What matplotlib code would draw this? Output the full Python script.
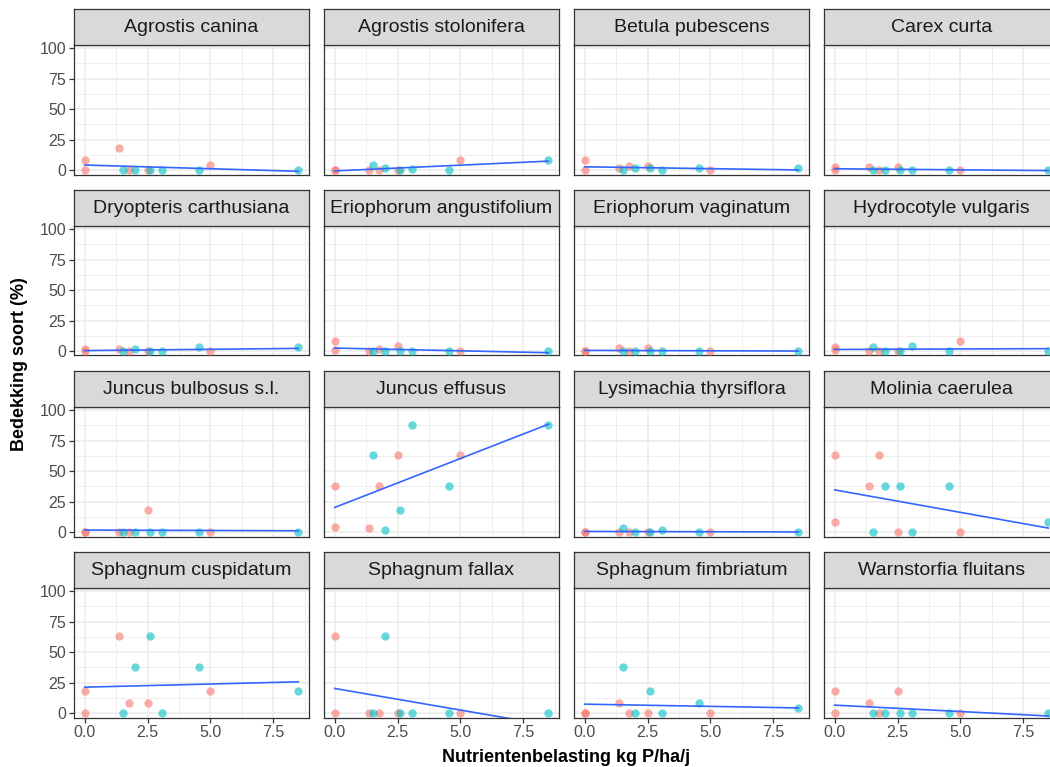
import numpy as np
import matplotlib
matplotlib.use("Agg")
import matplotlib.pyplot as plt
from matplotlib.ticker import MultipleLocator

plt.rcParams['font.family'] = ['Liberation Sans', 'DejaVu Sans']

# Phosphorus load (kg P/ha/j) per plot, for the two plot groups
x_groep1 = [0.0, 0.0, 1.38, 1.75, 2.5, 5.0]
x_groep2 = [1.52, 2.02, 2.6, 3.07, 4.55, 8.5]

soorten = [
    "Agrostis canina", "Agrostis stolonifera", "Betula pubescens", "Carex curta",
    "Dryopteris carthusiana", "Eriophorum angustifolium", "Eriophorum vaginatum",
    "Hydrocotyle vulgaris", "Juncus bulbosus s.l.", "Juncus effusus",
    "Lysimachia thyrsiflora", "Molinia caerulea", "Sphagnum cuspidatum",
    "Sphagnum fallax", "Sphagnum fimbriatum", "Warnstorfia fluitans",
]

# Cover (%) per species, in the order of x_groep1 / x_groep2
bedekking_groep1 = [
    [8, 0, 18, 0, 0, 4],
    [0, 0, 0, 0, 0, 8],
    [8, 0, 2, 3, 3, 0],
    [2.5, 0, 2.5, 0, 2.5, 0],
    [2, 0, 2, 0, 0, 0],
    [8, 1, 0, 2, 4, 0],
    [0, 0, 2.5, 0, 2.5, 0],
    [3.5, 0.5, 0, 0, 0, 8],
    [0, 0, 0, 0, 18, 0],
    [38, 4, 3, 38, 63, 63],
    [0, 0, 0, 0, 0, 0],
    [63, 8, 38, 63, 0, 0],
    [18, 0, 63, 8, 8, 18],
    [63, 0, 0, 0, 0, 0],
    [0, 0, 8, 0, 0, 0],
    [18, 0, 8, 0, 18, 0],
]
bedekking_groep2 = [
    [0, 0, 0, 0, 0, 0],
    [4, 2, 0, 1, 0, 8],
    [0, 2, 1.5, 0, 1.5, 1.5],
    [0, 0, 0, 0, 0, 0],
    [0, 2, 0, 0, 3, 3],
    [0, 0, 0, 0, 0, 0],
    [0, 0, 0, 0, 0, 0],
    [3, 0, 0, 4, 0, 0],
    [0, 0, 0, 0, 0, 0],
    [63, 2, 18, 88, 38, 88],
    [3, 0, 0, 2, 0, 0],
    [0, 38, 38, 0, 38, 8],
    [0, 38, 63, 0, 38, 18],
    [0, 63, 0, 0, 0, 0],
    [38, 0, 18, 0, 8, 4],
    [0, 0, 0, 0, 0, 0],
]

x_ticks = [0.0, 2.5, 5.0, 7.5]
y_ticks = [0, 25, 50, 75, 100]

kleur1 = "#F8766D"
kleur2 = "#00BFC4"
lijnkleur = "#3366FF"

W, H = 1050, 767
fig = plt.figure(figsize=(W / 100, H / 100), dpi=100)

col_left = [74, 324, 574, 824]
panel_w = 235
row_top = [45, 226, 407, 588]
panel_h = 129.5
strip_h = 36

all_x = np.array(x_groep1 + x_groep2)
xmin, xmax = all_x.min(), all_x.max()
xpad = 0.05 * (xmax - xmin)

for i, naam in enumerate(soorten):
    r, c = divmod(i, 4)
    l = col_left[c] / W
    b = 1 - (row_top[r] + panel_h) / H
    ax = fig.add_axes([l, b, panel_w / W, panel_h / H])
    ax.set_xlim(xmin - xpad, xmax + xpad)
    ax.set_ylim(-3.6, 102.5)
    ax.xaxis.set_major_locator(MultipleLocator(2.5))
    ax.xaxis.set_minor_locator(MultipleLocator(1.25))
    ax.yaxis.set_major_locator(MultipleLocator(25))
    ax.yaxis.set_minor_locator(MultipleLocator(12.5))
    ax.grid(which='major', color='#EBEBEB', linewidth=1.1, zorder=0)
    ax.grid(which='minor', color='#EBEBEB', linewidth=0.55, zorder=0)
    ax.set_axisbelow(True)
    for s in ax.spines.values():
        s.set_color('#333333')
        s.set_linewidth(0.9)

    y1 = bedekking_groep1[i]
    y2 = bedekking_groep2[i]
    ax.scatter(x_groep1, y1, s=36, color=kleur1, alpha=0.6, linewidths=0, zorder=3, clip_on=False)
    ax.scatter(x_groep2, y2, s=36, color=kleur2, alpha=0.6, linewidths=0, zorder=3, clip_on=False)

    # linear fit over all plots of this species
    xs = np.array(x_groep1 + x_groep2, dtype=float)
    ys = np.array(list(y1) + list(y2), dtype=float)
    slope, icpt = np.polyfit(xs, ys, 1)
    xl = np.linspace(xs.min(), xs.max(), 80)
    ax.plot(xl, icpt + slope * xl, color=lijnkleur, linewidth=1.2, zorder=4)

    ax.set_xticks(x_ticks)
    ax.set_yticks(y_ticks)
    ax.tick_params(which='major', length=3.5, width=0.9, color='#333333',
                   labelsize=11.5, labelcolor='#4D4D4D', pad=2)
    ax.tick_params(which='minor', length=0)
    if c == 0:
        ax.set_yticklabels([str(v) for v in y_ticks])
    else:
        ax.tick_params(axis='y', which='major', length=0, labelleft=False)
    if r == 3:
        ax.set_xticklabels([f"{v:.1f}" for v in x_ticks])
    else:
        ax.tick_params(axis='x', which='major', length=0, labelbottom=False)

    # facet strip
    sax = fig.add_axes([l, 1 - row_top[r] / H, panel_w / W, strip_h / H])
    sax.set_facecolor('#D9D9D9')
    sax.set_xticks([])
    sax.set_yticks([])
    for s in sax.spines.values():
        s.set_color('#333333')
        s.set_linewidth(0.9)
    sax.text(0.5, 0.48, naam, ha='center', va='center', fontsize=14,
             color='#1A1A1A', transform=sax.transAxes)

fig.text((74 + 824 + panel_w) / 2 / W, 1 - 757 / H, "Nutrientenbelasting kg P/ha/j",
         ha='center', va='center', fontsize=13, fontweight='bold')
fig.text(20 / W, 1 - 364 / H, "Bedekking soort (%)", rotation=90,
         ha='center', va='center', fontsize=13, fontweight='bold')

fig.savefig("out.png", dpi=100)
